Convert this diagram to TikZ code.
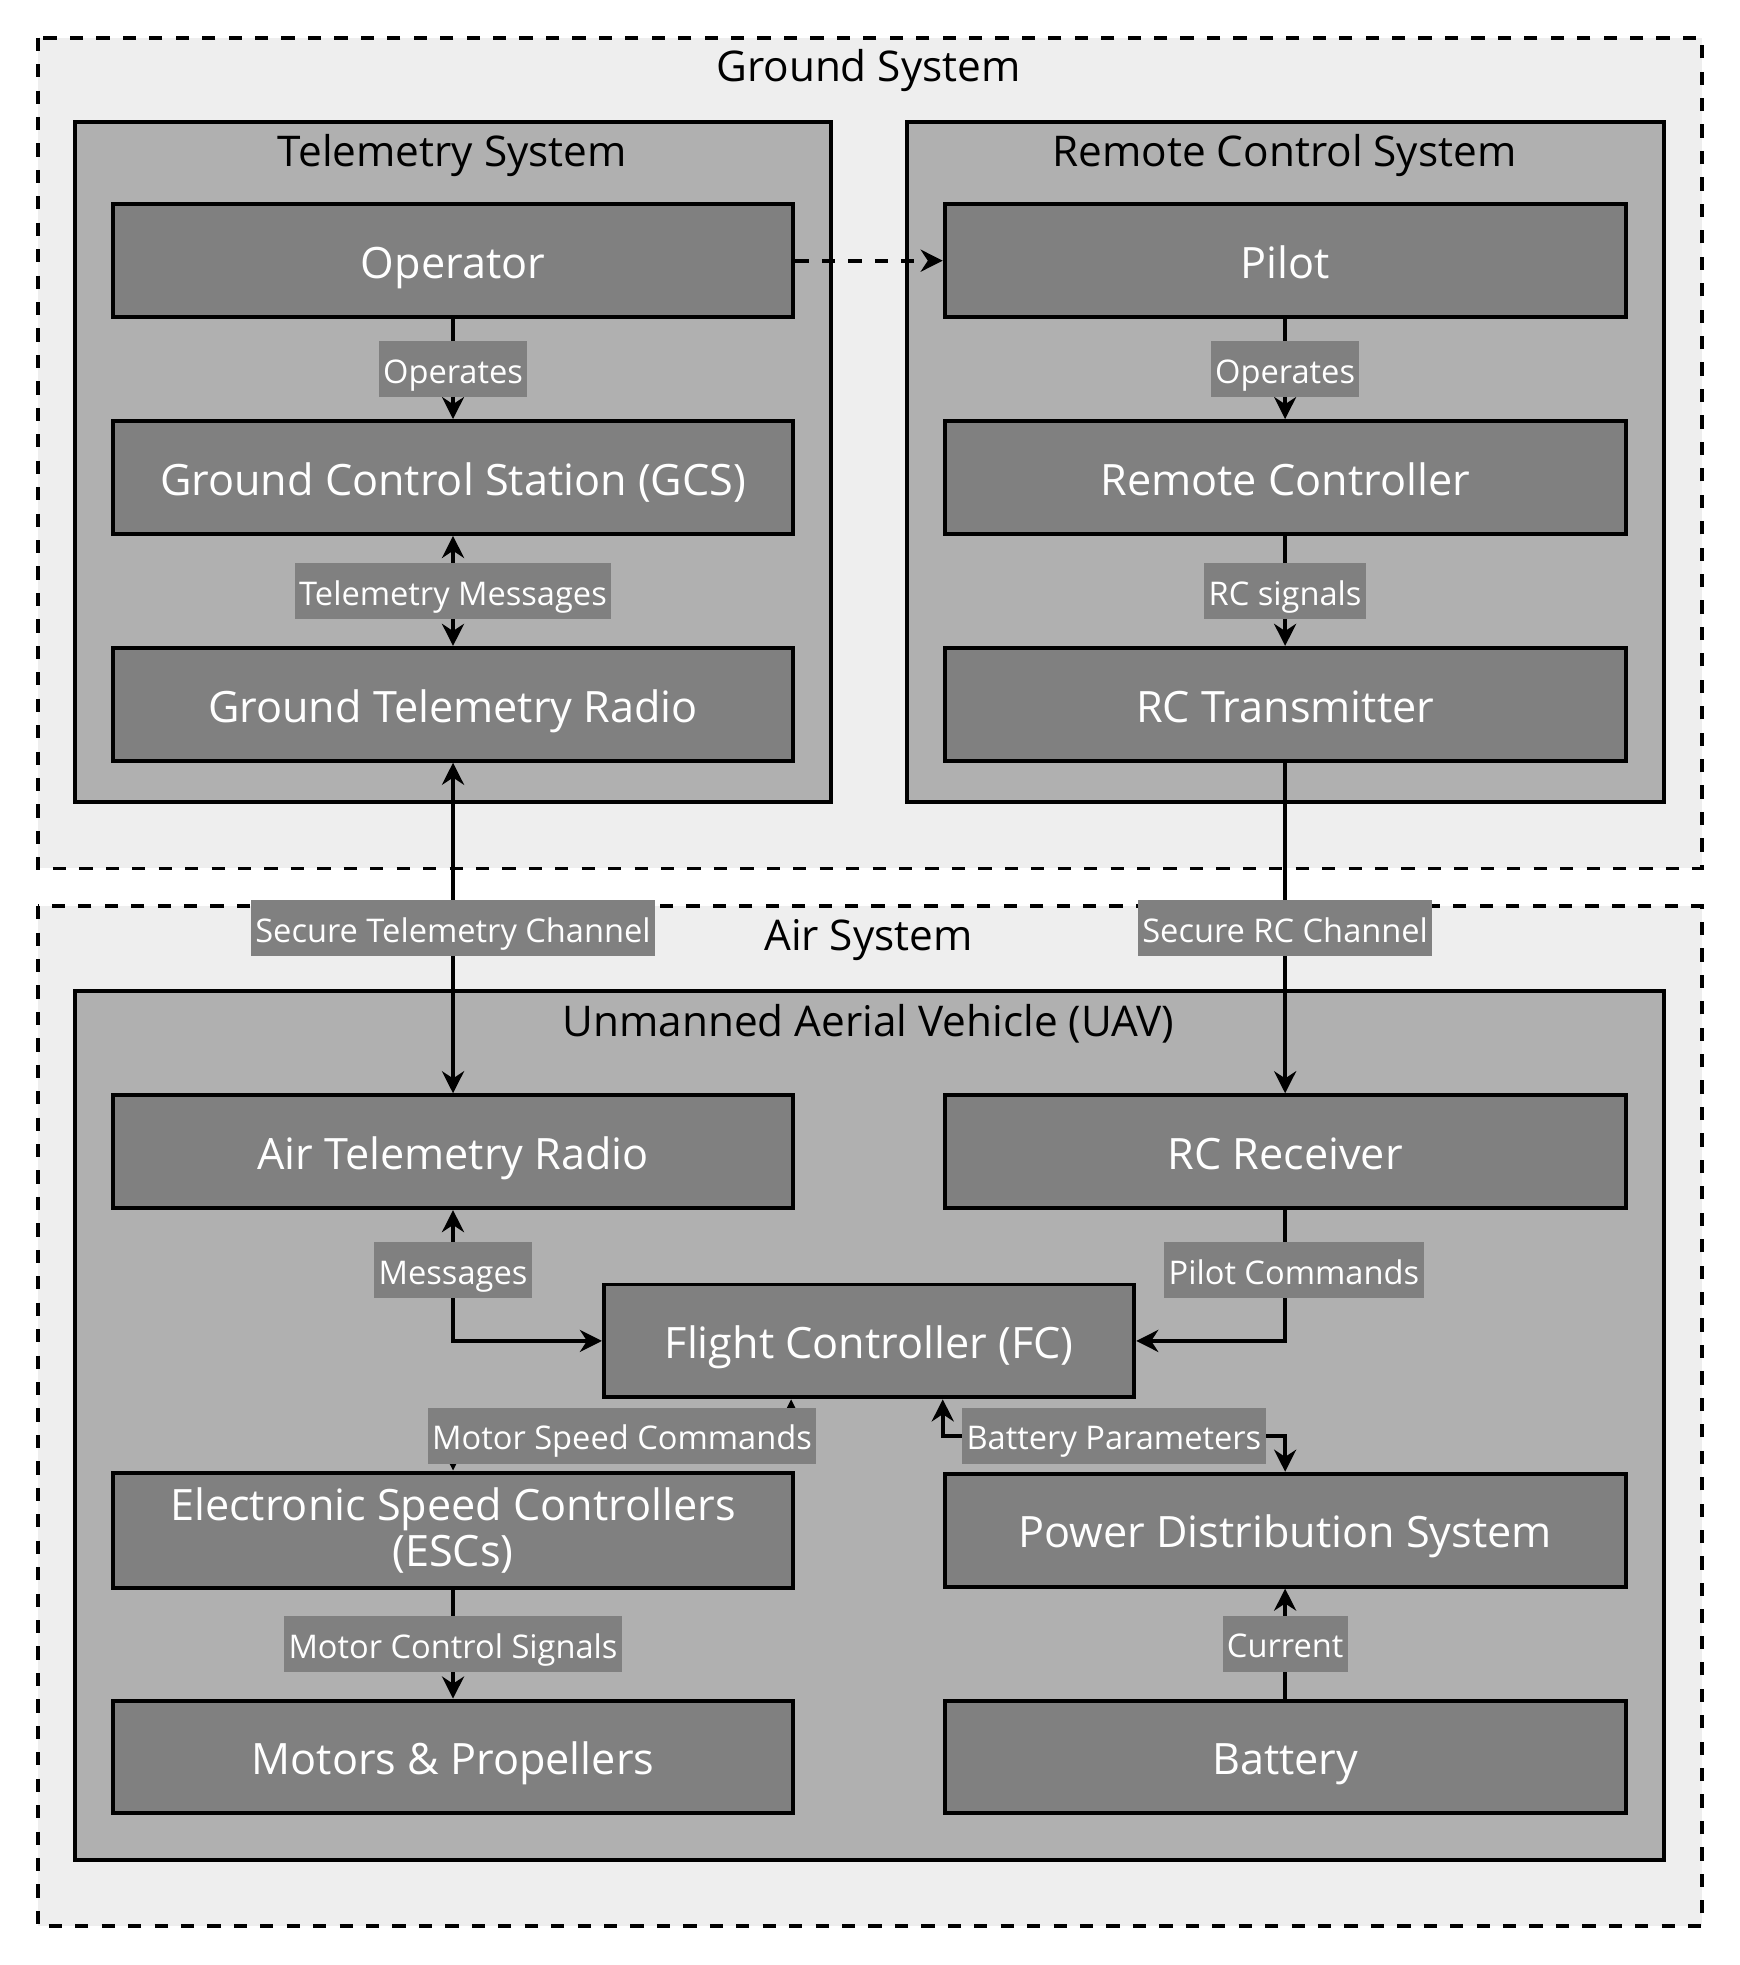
\documentclass[tikz,border=0pt]{standalone}
\usepackage{fontspec}
\setmainfont{Open Sans}
\usetikzlibrary{arrows.meta}
\definecolor{paleback}{HTML}{EEEEEE}
\definecolor{midgray}{HTML}{B0B0B0}
\definecolor{darkbox}{HTML}{808080}
\begin{document}
\begin{tikzpicture}[x=0.01cm,y=-0.01cm,
    group/.style={draw,line width=0.9pt,fill=midgray},
    area/.style={draw,dashed,line width=0.9pt,fill=paleback},
    block/.style={draw,line width=0.9pt,fill=darkbox,text=white,minimum width=5.43cm,minimum height=0.9cm,align=center,font=\fontsize{9.8}{10.5}\selectfont},
    tag/.style={fill=darkbox,text=white,inner sep=1pt,text height=1.6ex,text depth=0.4ex,font=\fontsize{7.4}{8}\selectfont},
    title/.style={font=\fontsize{9.6}{11}\selectfont},
    link/.style={line width=0.9pt,-{Stealth[length=5pt,width=5pt]}},
    both/.style={line width=0.9pt,{Stealth[length=5pt,width=5pt]}-{Stealth[length=5pt,width=5pt]}}]

    \useasboundingbox (0,0) rectangle (1388,1568);

    % Dashed system areas and grey groups
    \draw[area] (30,30) rectangle (1358,693);
    \draw[area] (30,723) rectangle (1358,1537);
    \draw[group] (60,97) rectangle (663,640);
    \draw[group] (724,97) rectangle (1328,640);
    \draw[group] (60,791) rectangle (1328,1484);

    % Titles
    \node[title] (tground) at (693,56) {Ground System};
    \node[title] (ttelem) at (361,124) {Telemetry System};
    \node[title] (trc) at (1025,124) {Remote Control System};
    \node[title] (tair) at (693,750) {Air System};
    \node[title] (tuav) at (693,817) {Unmanned Aerial Vehicle (UAV)};

    % Blocks, left column and right column
    \foreach \name/\ypos/\text in {oper/208/Operator, gcs/381/Ground Control Station (GCS), grad/562/Ground Telemetry Radio,
                                    arad/919/Air Telemetry Radio, mot/1402/Motors \& Propellers} {
        \node[block,text height=2.1ex,text depth=0.6ex] (\name) at (361.5,\ypos) {\text};
    }
    \node[block] (esc) at (361.5,1221) {Electronic Speed Controllers\\(ESCs)};
    \foreach \name/\ypos/\text in {pilot/208/Pilot, rctl/381/Remote Controller, rctx/562/RC Transmitter,
                                    rcrx/919/RC Receiver, pds/1221/Power Distribution System, bat/1402/Battery} {
        \node[block,text height=2.1ex,text depth=0.6ex] (\name) at (1025.5,\ypos) {\text};
    }
    \node[block,minimum width=4.23cm,text height=2.1ex,text depth=0.6ex] (fc) at (693.5,1070) {Flight Controller (FC)};

    % Connectors
    \draw[link,dashed] (oper) -- (pilot);
    \draw[link] (oper) -- node[tag] {Operates} (gcs);
    \draw[both] (gcs) -- node[tag] {Telemetry Messages} (grad);
    \draw[link] (pilot) -- node[tag] {Operates} (rctl);
    \draw[link] (rctl) -- node[tag] {RC signals} (rctx);
    \draw[both] (grad) -- node[tag,pos=0.5] {Secure Telemetry Channel} (arad);
    \draw[link] (rctx) -- node[tag,pos=0.5] {Secure RC Channel} (rcrx);
    \draw[both] (arad) |- node[tag,pos=0.23] {Messages} (fc);
    \draw[link] (rcrx) |- node[tag,pos=0.23,xshift=0.07cm] {Pilot Commands} (fc);
    \draw[both] (fc.south west) ++(151,0) coordinate (fcl) -- ++(0,29) -| node[tag,pos=0.25] {Motor Speed Commands} (esc);
    \draw[both] (fc.south west) ++(272,0) coordinate (fcr) -- ++(0,29) -| node[tag,pos=0.25] {Battery Parameters} (pds);
    \draw[link] (esc) -- node[tag] {Motor Control Signals} (mot);
    \draw[link] (bat) -- node[tag] {Current} (pds);
\end{tikzpicture}
\end{document}
